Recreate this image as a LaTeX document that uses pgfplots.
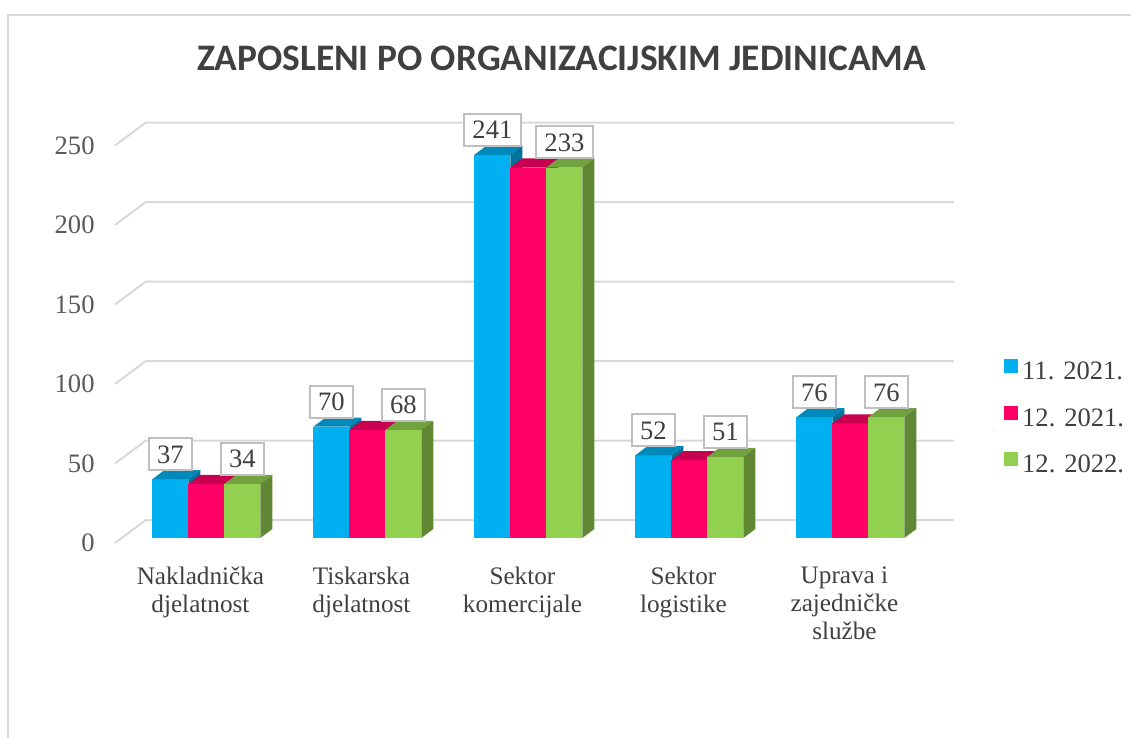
\documentclass[border=0pt]{standalone}
\usepackage{fontspec}
\setmainfont{Liberation Serif}
\newfontfamily\carlito{Carlito}
\usepackage{pgfplots}
\usepackage{pgfplotstable}
\pgfplotsset{compat=1.18}
\definecolor{cB}{HTML}{00B0F0}
\definecolor{cR}{HTML}{FF0066}
\definecolor{cG}{HTML}{92D050}
\definecolor{gridc}{HTML}{D9D9D9}
\definecolor{tickc}{HTML}{595959}
\definecolor{titlec}{HTML}{404040}
\definecolor{boxc}{HTML}{BFBFBF}

\pgfplotstableread{
cat b r g
0 37 34 34
1 70 68 68
2 241 233 233
3 52 49 51
4 76 72 76
}\datatable

\def\bw{0.2236}
\def\ddx{0.0745}
\def\ddy{5.7}

\newcommand{\drawbar}[3]{%
  \pgfmathsetmacro\xa{#1}%
  \pgfmathsetmacro\xb{\xa+\bw}%
  \pgfmathsetmacro\xc{\xa+\ddx}%
  \pgfmathsetmacro\xd{\xb+\ddx}%
  \pgfmathsetmacro\ya{#2}%
  \pgfmathsetmacro\yb{\ya+\ddy}%
  \edef\temp{%
    \noexpand\addplot[fill=#3, draw=none, forget plot] coordinates {(\xa,0) (\xb,0) (\xb,\ya) (\xa,\ya)};
    \noexpand\addplot[fill=#3!78!black, draw=none, forget plot] coordinates {(\xa,\ya) (\xc,\yb) (\xd,\yb) (\xb,\ya)};
    \noexpand\addplot[fill=#3!65!black, draw=none, forget plot] coordinates {(\xb,0) (\xd,\ddy) (\xd,\yb) (\xb,\ya)};
  }\temp
}

\newcommand{\lblfont}{\fontsize{12.6}{14}\selectfont}
\newcommand{\numfont}{\fontsize{13.3}{15}\selectfont}

\begin{document}
\begin{tikzpicture}
\begin{axis}[
  at={(0,0)}, anchor=south west,
  x=80.5pt, y=0.795pt,
  xmin=-0.568, xmax=4.643, ymin=-3.16, ymax=260,
  clip=false,
  axis line style={draw=none},
  major tick length=0pt,
  tick style={draw=none},
  ytick={0,50,100,150,200,250},
  yticklabels={0,50,100,150,200,250},
  xtick={0,1,2,3,4},
  xticklabels={{Nakladnička\\djelatnost},{Tiskarska\\djelatnost},{Sektor\\komercijale},{Sektor\\logistike},{Uprava i\\zajedničke\\službe}},
  yticklabel style={font=\numfont, text=tickc, anchor=east, inner sep=0pt, xshift=-10pt, yshift=-2.5pt},
  xticklabel style={font=\lblfont, text=titlec, align=center, anchor=north, yshift=-8.5pt, xshift=-3pt},
  legend style={draw=none, fill=none, at={(1.0596,0.2966)}, anchor=west, inner sep=0pt,
    row sep=10pt, column sep=2pt,
    nodes={inner ysep=0pt, inner xsep=0pt, text height=9pt, text depth=3pt, font=\numfont, text=titlec}},
  legend cell align=left,
]
% gridlines (back wall)
\pgfplotsforeachungrouped \gv in {0,50,100,150,200,250}{%
  \pgfmathsetmacro\ga{\gv-3.16}%
  \pgfmathsetmacro\gb{\gv+11.3}%
  \edef\temp{\noexpand\addplot[gridc, line width=1pt, forget plot] coordinates {(-0.568,\ga) (-0.376,\gb) (4.643,\gb)};}\temp
}
% bars
\pgfplotsforeachungrouped \ci in {0,1,2,3,4}{%
  \pgfplotstablegetelem{\ci}{b}\of\datatable \let\vb=\pgfplotsretval
  \pgfplotstablegetelem{\ci}{r}\of\datatable \let\vr=\pgfplotsretval
  \pgfplotstablegetelem{\ci}{g}\of\datatable \let\vg=\pgfplotsretval
  \drawbar{\ci-1.5*\bw}{\vb}{cB}%
  \drawbar{\ci-0.5*\bw}{\vr}{cR}%
  \drawbar{\ci+0.5*\bw}{\vg}{cG}%
}
% data labels
\addplot[draw=none, mark=none, forget plot, nodes near coords, point meta=explicit symbolic,
  nodes near coords style={anchor=south, draw=boxc, line width=1pt, fill=white, text=titlec,
    inner xsep=4.3pt, inner ysep=3.5pt, text height=9pt, text depth=0pt, outer sep=0pt, font=\numfont}]
  table[x expr=\coordindex-\bw, y expr=\thisrow{b}+\ddy, meta=b]{\datatable};
\addplot[draw=none, mark=none, forget plot, nodes near coords, point meta=explicit symbolic,
  nodes near coords style={anchor=south, draw=boxc, line width=1pt, fill=white, text=titlec,
    inner xsep=4.3pt, inner ysep=3.5pt, text height=9pt, text depth=0pt, outer sep=0pt, font=\numfont}]
  table[x expr=\coordindex+\bw, y expr=\thisrow{g}+\ddy, meta=g]{\datatable};
% legend
\addlegendimage{legend image code/.code={\fill[cB] (0pt,0.5pt) rectangle (6.5pt,7pt);}}
\addlegendentry{11. 2021.}
\addlegendimage{legend image code/.code={\fill[cR] (0pt,0.5pt) rectangle (6.5pt,7pt);}}
\addlegendentry{12. 2021.}
\addlegendimage{legend image code/.code={\fill[cG] (0pt,0.5pt) rectangle (6.5pt,7pt);}}
\addlegendentry{12. 2022.}
\end{axis}
\node[font=\carlito\bfseries\fontsize{18.7}{22}\selectfont, text=titlec] at (223.25pt,242.25pt) {ZAPOSLENI PO ORGANIZACIJSKIM JEDINICAMA};
\draw[gridc, line width=1pt] (517.5pt,264pt) -- (-53.5pt,264pt) -- (-53.5pt,-108.5pt);
\pgfresetboundingbox
\useasboundingbox (-57.5pt,-97.5pt) rectangle (508pt,271.5pt);
\end{tikzpicture}
\end{document}
